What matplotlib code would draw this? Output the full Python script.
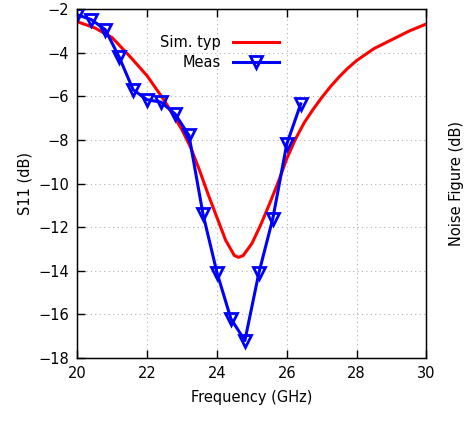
import numpy as np
import matplotlib.pyplot as plt

# simulated S11
sim_f = [20.0, 20.5, 21.0, 21.5, 22.0, 22.5, 23.0, 23.25, 23.5, 23.75, 24.0, 24.25, 24.5, 24.62,
         24.75, 25.0, 25.25, 25.5, 25.75, 26.0, 26.25, 26.5, 26.75, 27.0, 27.25, 27.5, 27.75,
         28.0, 28.5, 29.0, 29.5, 30.0]
sim_s11 = [-2.57, -2.85, -3.3, -4.15, -5.05, -6.2, -7.53, -8.35, -9.38, -10.5, -11.55, -12.6, -13.3, -13.38,
           -13.3, -12.75, -11.9, -10.95, -9.95, -8.85, -7.95, -7.2, -6.6, -6.05, -5.55, -5.1, -4.7,
           -4.35, -3.8, -3.4, -3.0, -2.67]

# measured S11
meas_f = [20.0, 20.4, 20.8, 21.2, 21.6, 22.0, 22.4, 22.8, 23.2, 23.6, 24.0, 24.4,
          24.8, 25.2, 25.6, 26.0, 26.4]
meas_s11 = [-2.25, -2.47, -2.93, -4.19, -5.69, -6.15, -6.26, -6.8, -7.79, -11.39, -14.08, -16.2,
            -17.2, -14.1, -11.6, -8.18, -6.34]

plt.rcParams['font.family'] = 'DejaVu Sans'
plt.rcParams['font.size'] = 10.5

fig = plt.figure(figsize=(4.71, 4.23), dpi=100)
ax = fig.add_axes([0.164, 0.1537, 0.7415, 0.8243])

ax.plot(sim_f, sim_s11, c='#ff0000', lw=2.2, label='Sim. typ', zorder=3)
ax.plot(meas_f, meas_s11, c='#0000ff', lw=2.2, marker='v', ms=8.5, mfc='none', mew=2,
        label='Meas', zorder=4)

ax.set_xlim(20, 30)
ax.set_ylim(-18, -2)
ax.set_xticks(np.arange(20, 31, 2))
ax.set_yticks(np.arange(-18, -1, 2))
ax.tick_params(direction='in', length=6, width=1, top=True, right=True, pad=6)
ax.grid(True, linestyle=(0, (1, 3)), color='#b0b0b0', lw=0.8)
ax.set_xlabel('Frequency (GHz)', labelpad=6)
ax.set_ylabel('S11 (dB)', labelpad=4)
for s in ax.spines.values():
    s.set_linewidth(1)

ax2 = ax.twinx()
ax2.set_yticks([])
ax2.set_ylabel('Noise Figure (dB)', labelpad=16)

leg = ax.legend(loc='upper left', bbox_to_anchor=(0.2, 0.965), frameon=False, markerfirst=False,
                handlelength=3.2, labelspacing=0.4, fontsize=10.5)

fig.savefig('out.png', dpi=100)
